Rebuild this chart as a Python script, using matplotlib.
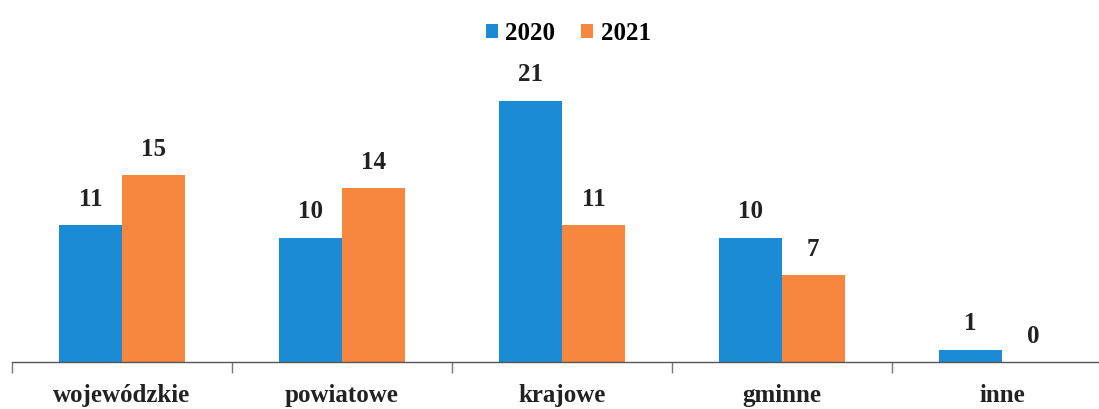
import numpy as np
import matplotlib.pyplot as plt

categories = ['wojewódzkie', 'powiatowe', 'krajowe', 'gminne', 'inne']
years = ['2020', '2021']
v2020 = [11, 10, 21, 10, 1]
v2021 = [15, 14, 11, 7, 0]

plt.rcParams['font.family'] = ['Liberation Serif', 'DejaVu Serif']
plt.rcParams['font.weight'] = 'bold'

fig = plt.figure(figsize=(10.99, 4.10), dpi=100)
ax = fig.add_axes([12 / 1099, 47 / 410, 1100 / 1099, 311 / 410])

x = np.arange(len(categories))
w = 0.285
blue = '#1b8bd5'
orange = '#f7873e'
b1 = ax.bar(x - w / 2, v2020, w, color=blue, label=years[0])
b2 = ax.bar(x + w / 2, v2021, w, color=orange, label=years[1])

for bars, vals in ((b1, v2020), (b2, v2021)):
    for b, v in zip(bars, vals):
        ax.annotate(str(v), (b.get_x() + b.get_width() / 2, v),
                    xytext=(0, 11), textcoords='offset points',
                    ha='center', va='bottom', fontsize=18, fontweight='bold',
                    color='#222222')

ax.set_xlim(-0.5, len(categories) - 0.5)
ax.set_ylim(0, 25)
ax.set_yticks([])
for s in ('top', 'right', 'left'):
    ax.spines[s].set_visible(False)
ax.spines['bottom'].set_color('#555555')
ax.spines['bottom'].set_linewidth(1.0)

# category separators as major ticks, names on minor ticks
ax.set_xticks(np.arange(-0.5, len(categories), 1.0))
ax.set_xticklabels([])
ax.tick_params(axis='x', which='major', length=8, color='#777777', width=1)
ax.set_xticks(x, minor=True)
ax.set_xticklabels(categories, minor=True, fontsize=18, fontweight='bold', color='#222222')
ax.tick_params(axis='x', which='minor', length=0, pad=15)

fig.legend(handles=[b1, b2], loc='upper center', bbox_to_anchor=(568 / 1099, 1.0),
           ncol=2, frameon=False, handlelength=0.5, handleheight=0.5,
           handletextpad=0.3, columnspacing=1.0,
           prop={'weight': 'bold', 'size': 18})

fig.savefig('out.png', dpi=100)
